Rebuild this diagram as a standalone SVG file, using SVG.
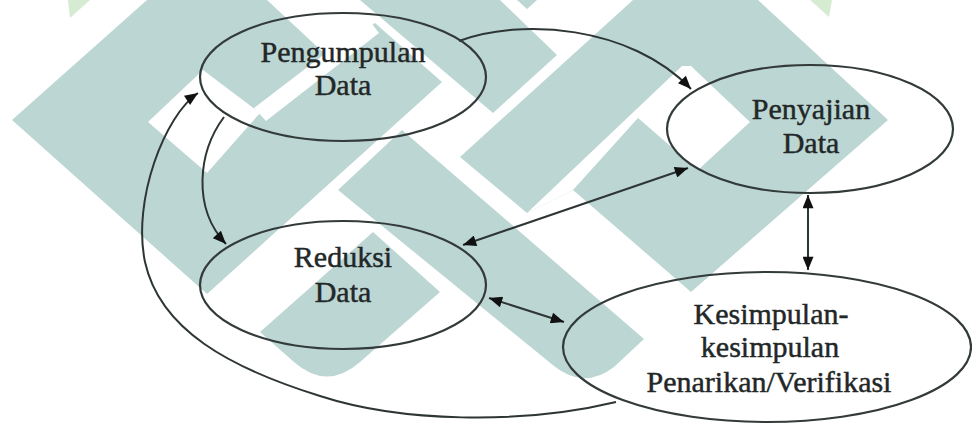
<svg xmlns="http://www.w3.org/2000/svg" width="972" height="424" viewBox="0 0 972 424">
<style>
.wm{fill:#bcd6d3;stroke:none}
.wh{fill:#ffffff;stroke:none}
.lf{fill:#d6ecd2;stroke:none}
.node{fill:none;stroke:#333a3a;stroke-width:2.2}
.lbl{font-size:30px;fill:#222727;stroke:#222727;stroke-width:0.45;text-anchor:middle}
.con{fill:none;stroke:#2e3535;stroke-width:2}
</style>
<defs>
<marker id="ah" viewBox="0 0 12 10" refX="12" refY="5" markerWidth="14" markerHeight="11" markerUnits="userSpaceOnUse" orient="auto-start-reverse">
<path d="M0,0 L12,5 L0,10 z" fill="#111"/>
</marker>
</defs>
<rect width="972" height="424" fill="#ffffff"/>
<g id="watermark">
<polygon class="lf" points="68,0 90,0 70,18"/>
<polygon class="lf" points="810,0 832,0 829,17"/>
<polygon class="wm" points="12,120 147,0 267,0 326,55 375,23 442,82 207,294"/>
<polygon class="wh" points="148,122 203,70 260,113 207,173"/>
<polygon class="wh" points="254,108 369,20 379,33 266,121"/>
<polygon class="wm" points="360,0 500,0 557,55 493,113"/>
<polygon class="wm" points="517,0 537,0 527,9"/>
<path class="wm" d="M338,190 L402,130 L644,339 L614,367 Q584,390 554,366 Z"/>
<path class="wm" d="M373,232 L440,292 L360,362 Q327,391 294,362 L260,332 Z"/>
<polygon class="wm" points="460,157 633,0 758,0 888,120 691,292 573,190 527,213"/>
<polygon class="wh" points="527,213 682,66 691,66 750,122 698,170 638,118 573,190"/>
</g>
<g id="connectors">
<path class="con" d="M459,41 C520,18 630,25 691,89" marker-end="url(#ah)"/>
<path class="con" d="M224,117 C198,152 192,208 226,244" marker-end="url(#ah)"/>
<path class="con" d="M616,402 C520,425 400,422 320,396 C230,368 160,330 145,262 C132,200 165,115 198,93" marker-end="url(#ah)"/>
<path class="con" d="M463,245 L688,168" marker-start="url(#ah)" marker-end="url(#ah)"/>
<path class="con" d="M808,195 L808,270" marker-start="url(#ah)" marker-end="url(#ah)"/>
<path class="con" d="M489,298 L564,322" marker-start="url(#ah)" marker-end="url(#ah)"/>
</g>
<g id="pengumpulan" font-family="'Liberation Serif', 'DejaVu Serif', serif">
<ellipse class="node" cx="343" cy="77" rx="143" ry="64"/>
<text class="lbl" x="343" y="62">Pengumpulan</text>
<text class="lbl" x="343" y="95">Data</text>
</g>
<g id="penyajian" font-family="'Liberation Serif', 'DejaVu Serif', serif">
<ellipse class="node" cx="810" cy="129" rx="143" ry="64"/>
<text class="lbl" x="811" y="119">Penyajian</text>
<text class="lbl" x="811" y="153">Data</text>
</g>
<g id="reduksi" font-family="'Liberation Serif', 'DejaVu Serif', serif">
<ellipse class="node" cx="343" cy="285" rx="143" ry="64"/>
<text class="lbl" x="343" y="267">Reduksi</text>
<text class="lbl" x="343" y="302">Data</text>
</g>
<g id="kesimpulan" font-family="'Liberation Serif', 'DejaVu Serif', serif">
<ellipse class="node" cx="767" cy="347" rx="204" ry="75"/>
<text class="lbl" x="771" y="324">Kesimpulan-</text>
<text class="lbl" x="770" y="357">kesimpulan</text>
<text class="lbl" x="769" y="392">Penarikan/Verifikasi</text>
</g>
</svg>
